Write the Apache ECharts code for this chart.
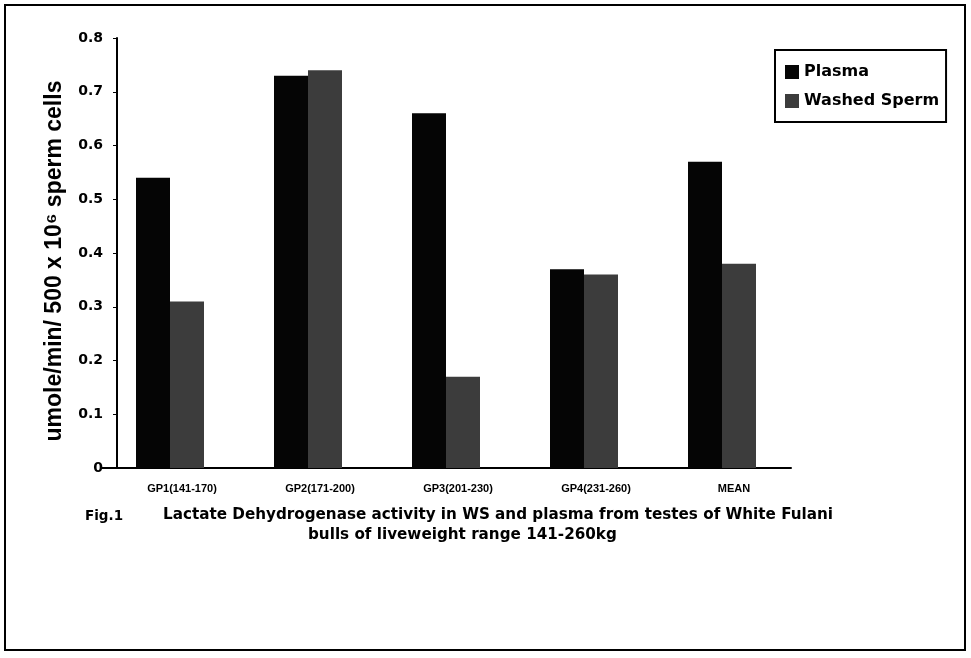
<!DOCTYPE html>
<html>
<head>
<meta charset="utf-8">
<script src="https://cdn.jsdelivr.net/npm/echarts@6/dist/echarts.min.js"></script>
<style>
html, body { margin: 0; padding: 0; background: #fff; }
#chart { width: 971px; height: 658px; }
</style>
</head>
<body>
<div id="chart"></div>
<script>
var categories = ['GP1(141-170)', 'GP2(171-200)', 'GP3(201-230)', 'GP4(231-260)', 'MEAN'];
var plasma_data = [0.54, 0.73, 0.66, 0.37, 0.57];
var washed_sperm_data = [0.31, 0.74, 0.17, 0.36, 0.38];
var y_ticks = [0, 0.1, 0.2, 0.3, 0.4, 0.5, 0.6, 0.7, 0.8];

var font = '"Liberation Sans", Arial, sans-serif';
var wide_font = '"DejaVu Sans", sans-serif';

chart_lactate();

function chart_lactate(){
	var lactate_chart = echarts.init(document.getElementById("chart"));
	var option = {
		animation: false,
		backgroundColor: '#fff',
		grid: {
			left: 101,
			width: 690,
			top: 38,
			height: 430
		},
		legend: {
			orient: 'vertical',
			left: 775,
			top: 50,
			padding: [14, 7, 13, 10],
			itemGap: 13,
			itemWidth: 14,
			itemHeight: 14,
			borderColor: '#000',
			borderWidth: 2,
			icon: 'rect',
			textStyle: {
				fontFamily: wide_font,
				fontWeight: 'bold',
				fontSize: 16,
				color: '#000'
			},
			data: ['Plasma', 'Washed Sperm']
		},
		xAxis: [
			{
				type: 'category',
				data: categories,
				axisLine: { lineStyle: { color: '#000', width: 2 } },
				axisTick: { show: false },
				axisLabel: {
					fontFamily: font,
					fontWeight: 'bold',
					fontSize: 11,
					color: '#000',
					margin: 15,
					padding: [0, 0, 0, 24]
				}
			}
		],
		yAxis: [
			{
				type: 'value',
				min: 0,
				max: y_ticks[y_ticks.length - 1],
				interval: 0.1,
				offset: -16,
				name: 'umole/min/ 500 x 10\u2076 sperm cells',
				nameLocation: 'middle',
				nameGap: 51,
				nameTextStyle: {
					fontFamily: font,
					fontWeight: 'bold',
					fontSize: 23,
					color: '#000',
					padding: [0, 16, 0, 0]
				},
				splitLine: { show: false },
				axisLine: { show: true, lineStyle: { color: '#000', width: 2 } },
				axisTick: { show: true, length: 4, lineStyle: { color: '#000' } },
				axisLabel: {
					fontFamily: wide_font,
					fontWeight: 'bold',
					fontSize: 14,
					color: '#000',
					margin: 14,
					formatter: function(v){
						return String(Math.round(v * 10) / 10);
					}
				}
			}
		],
		series: [
			{
				name: 'Plasma',
				type: 'bar',
				barWidth: 34,
				barGap: '0%',
				itemStyle: { color: '#050505' },
				data: plasma_data
			},
			{
				name: 'Washed Sperm',
				type: 'bar',
				barWidth: 34,
				itemStyle: { color: '#3c3c3c' },
				data: washed_sperm_data
			}
		],
		graphic: [
			{
				type: 'rect',
				shape: { x: 5, y: 5, width: 960, height: 645 },
				style: { fill: 'none', stroke: '#000', lineWidth: 2 }
			},
			{
				type: 'text',
				left: 85,
				top: 509,
				style: { text: 'Fig.1', fontFamily: wide_font, fontWeight: 'bold', fontSize: 13.5, fill: '#000' }
			},
			{
				type: 'text',
				left: 163,
				top: 508,
				style: { text: 'Lactate Dehydrogenase activity in WS and plasma from testes of White Fulani', fontFamily: wide_font, fontWeight: 'bold', fontSize: 15.2, fill: '#000' }
			},
			{
				type: 'text',
				left: 308,
				top: 528,
				style: { text: 'bulls of liveweight range 141-260kg', fontFamily: wide_font, fontWeight: 'bold', fontSize: 15.2, fill: '#000' }
			}
		]
	};
	lactate_chart.setOption(option);
}
</script>
</body>
</html>
